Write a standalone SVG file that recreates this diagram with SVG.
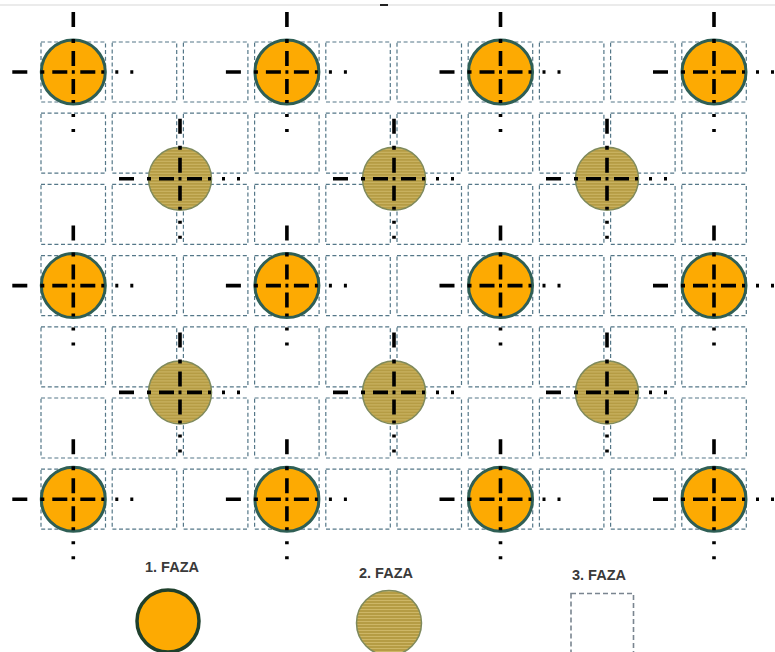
<svg xmlns="http://www.w3.org/2000/svg" xmlns:xlink="http://www.w3.org/1999/xlink" width="775" height="652" viewBox="0 0 775 652">
<style>
.cell{fill:none;stroke:#547788;stroke-width:1.2;stroke-dasharray:4 2.6}
.leg-cell{fill:none;stroke:#7a8590;stroke-width:1.6;stroke-dasharray:5 3}
.f1{fill:#FDAA02;stroke:#2F5F55;stroke-width:3}
.f2{fill:url(#stripes);stroke:#7f8a5c;stroke-width:1.5}
.cross{fill:none;stroke:#000;stroke-width:3.6;stroke-linecap:butt}
.lbl{font-family:"Liberation Sans",Arial,sans-serif;font-weight:bold;font-size:14.5px;fill:#3a3a3a}
</style>
<defs>
<pattern id="stripes" patternUnits="userSpaceOnUse" width="8" height="3">
<rect width="8" height="3" fill="#B59C44"/>
<rect y="0" width="8" height="1" fill="#CDB666"/>
</pattern>
<g id="row">
<rect class="cell" x="41" y="0" width="64.5" height="60"/>
<rect class="cell" x="112.2" y="0" width="64.5" height="60"/>
<rect class="cell" x="183.4" y="0" width="64.5" height="60"/>
<rect class="cell" x="254.6" y="0" width="64.5" height="60"/>
<rect class="cell" x="325.8" y="0" width="64.5" height="60"/>
<rect class="cell" x="397" y="0" width="64.5" height="60"/>
<rect class="cell" x="468.2" y="0" width="64.5" height="60"/>
<rect class="cell" x="539.4" y="0" width="64.5" height="60"/>
<rect class="cell" x="610.6" y="0" width="64.5" height="60"/>
<rect class="cell" x="681.8" y="0" width="64.5" height="60"/>
</g>
<path id="cross" class="cross" d="M-61 0H-46M-33 0H-29M-21 0H-6M-1.5 0H1.5M7 0H22M28 0H31M42 0H45M57 0H60M0 -60V-45M0 -33V-29M0 -21V-6M0 7V22M0 28V31M0 42V45M0 57V60"/>
</defs>

<line x1="0" y1="5" x2="775" y2="5" stroke="#e4e4e4" stroke-width="1.5"/>
<line x1="380" y1="5" x2="388" y2="5" stroke="#222" stroke-width="2"/>

<g id="grid">
<use xlink:href="#row" y="42"/>
<use xlink:href="#row" y="113.2"/>
<use xlink:href="#row" y="184.4"/>
<use xlink:href="#row" y="255.6"/>
<use xlink:href="#row" y="326.8"/>
<use xlink:href="#row" y="398"/>
<use xlink:href="#row" y="469.2"/>
</g>

<g id="phase1">
<g id="o-0-0" transform="translate(73.3,72)"><circle class="f1" r="32"/><use xlink:href="#cross"/></g>
<g id="o-0-3" transform="translate(286.9,72)"><circle class="f1" r="32"/><use xlink:href="#cross"/></g>
<g id="o-0-6" transform="translate(500.5,72)"><circle class="f1" r="32"/><use xlink:href="#cross"/></g>
<g id="o-0-9" transform="translate(714,72)"><circle class="f1" r="32"/><use xlink:href="#cross"/></g>
<g id="o-3-0" transform="translate(73.3,285.6)"><circle class="f1" r="32"/><use xlink:href="#cross"/></g>
<g id="o-3-3" transform="translate(286.9,285.6)"><circle class="f1" r="32"/><use xlink:href="#cross"/></g>
<g id="o-3-6" transform="translate(500.5,285.6)"><circle class="f1" r="32"/><use xlink:href="#cross"/></g>
<g id="o-3-9" transform="translate(714,285.6)"><circle class="f1" r="32"/><use xlink:href="#cross"/></g>
<g id="o-6-0" transform="translate(73.3,499.2)"><circle class="f1" r="32"/><use xlink:href="#cross"/></g>
<g id="o-6-3" transform="translate(286.9,499.2)"><circle class="f1" r="32"/><use xlink:href="#cross"/></g>
<g id="o-6-6" transform="translate(500.5,499.2)"><circle class="f1" r="32"/><use xlink:href="#cross"/></g>
<g id="o-6-9" transform="translate(714,499.2)"><circle class="f1" r="32"/><use xlink:href="#cross"/></g>
</g>

<g id="phase2">
<g id="g-1-1" transform="translate(180,178.8)"><circle class="f2" r="31.5"/><use xlink:href="#cross"/></g>
<g id="g-1-4" transform="translate(394,178.8)"><circle class="f2" r="31.5"/><use xlink:href="#cross"/></g>
<g id="g-1-7" transform="translate(607,178.8)"><circle class="f2" r="31.5"/><use xlink:href="#cross"/></g>
<g id="g-4-1" transform="translate(180,392.4)"><circle class="f2" r="31.5"/><use xlink:href="#cross"/></g>
<g id="g-4-4" transform="translate(394,392.4)"><circle class="f2" r="31.5"/><use xlink:href="#cross"/></g>
<g id="g-4-7" transform="translate(607,392.4)"><circle class="f2" r="31.5"/><use xlink:href="#cross"/></g>
</g>

<g id="connectors"></g>

<g id="legend">
<g id="leg1">
<text class="lbl" x="145" y="571.5">1. FAZA</text>
<circle cx="168" cy="621" r="31" fill="#FDAA02" stroke="#1f402c" stroke-width="3.5"/>
</g>
<g id="leg2">
<text class="lbl" x="359" y="577.5">2. FAZA</text>
<circle class="f2" cx="389" cy="623" r="32.5"/>
</g>
<g id="leg3">
<text class="lbl" x="572" y="580">3. FAZA</text>
<rect class="leg-cell" x="571" y="593.5" width="62.5" height="64"/>
</g>
</g>
</svg>
